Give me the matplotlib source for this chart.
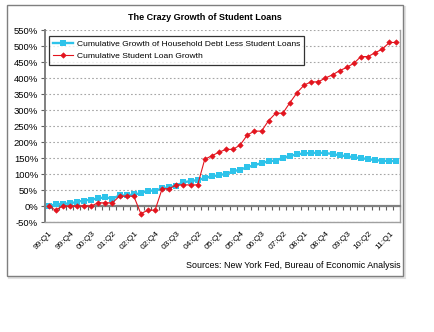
import matplotlib
matplotlib.use("Agg")
import matplotlib.pyplot as plt
from matplotlib.patches import Rectangle
import matplotlib.transforms as mtransforms
import numpy as np

plt.rcParams['font.family'] = ['Liberation Sans', 'DejaVu Sans']

title = "The Crazy Growth of Student Loans"
source = "Sources: New York Fed, Bureau of Economic Analysis"
series_names = ["Cumulative Growth of Household Debt Less Student Loans",
                "Cumulative Student Loan Growth"]

# 50 quarters: 99:Q1 .. 11:Q2 ; labels every 3rd quarter
tick_labels = ["99:Q1", "99:Q4", "00:Q3", "01:Q2", "02:Q1", "02:Q4", "03:Q3",
               "04:Q2", "05:Q1", "05:Q4", "06:Q3", "07:Q2", "08:Q1", "08:Q4",
               "09:Q3", "10:Q2", "11:Q1"]

household = [0, 5, 7, 8, 13, 17, 20, 24, 27, 23,
             33, 33, 36, 40, 48, 48, 55, 59, 64, 74,
             78, 81, 87, 93, 96, 101, 108, 114, 121, 128,
             134, 140, 142, 150, 157, 161, 165, 165, 167, 165,
             163, 158, 156, 152, 150, 146, 144, 141, 141, 140]

student = [0, -13, 0, 0, 0, 0, 0, 10, 10, 10,
           31, 31, 31, -24, -13, -13, 54, 54, 66, 66,
           66, 66, 146, 157, 168, 177, 177, 191, 222, 234,
           234, 267, 290, 290, 323, 354, 378, 388, 388, 400,
           410, 423, 433, 446, 467, 467, 479, 490, 511, 511]

W, H = 435, 332
fig = plt.figure(figsize=(W / 100, H / 100), dpi=100)
fig.patch.set_facecolor('white')

def fr(x0, y0, x1, y1):
    return (x0 / W, 1 - y1 / H, (x1 - x0) / W, (y1 - y0) / H)

# chart area frame with light shadow
sx, sy, sw, sh = fr(9, 7, 405, 278)
fig.patches.append(Rectangle((sx, sy), sw, sh, transform=fig.transFigure,
                             facecolor='none', edgecolor='#E2E2E2', lw=1.5, zorder=-3))
cx, cy, cw, ch = fr(7, 5, 403, 276)
fig.patches.append(Rectangle((cx, cy), cw, ch, transform=fig.transFigure,
                             facecolor='white', edgecolor='#7F7F7F', lw=1.0, zorder=-2))

ax = fig.add_axes(fr(45, 30, 400, 222))
ax.set_zorder(1)
ax.set_facecolor('white')

n = len(student)
x = np.arange(n)
blue = '#2EC3EA'
red = '#E3141E'

ax.plot(x, household, color=blue, lw=1.7, marker='s', markersize=3.7,
        markeredgewidth=0, label=series_names[0], zorder=3)
ax.plot(x, student, color=red, lw=0.8, marker='D', markersize=2.8,
        markeredgewidth=0.4, markeredgecolor=red, label=series_names[1], zorder=4)

ax.set_xlim(-0.32, n - 1 + 0.38)
ax.set_ylim(-50, 550)
yt = np.arange(-50, 551, 50)
ax.set_yticks(yt)
ax.set_yticklabels([f"{v}%" for v in yt], fontsize=6.8, color='black')
ax.yaxis.grid(True, color='#A6A6A6', linestyle=(0, (1.5, 2)), lw=0.8)
ax.set_axisbelow(True)

# category axis crossing at 0
ax.spines['bottom'].set_position(('data', 0))
ax.spines['bottom'].set_color('#808080')
ax.spines['bottom'].set_linewidth(1.6)
ax.spines['left'].set_color('#808080')
ax.spines['left'].set_linewidth(1.4)
ax.spines['right'].set_color('#A0A0A0')
ax.spines['right'].set_linewidth(1.0)
ax.spines['top'].set_position(('axes', 0))
ax.spines['top'].set_color('#A0A0A0')
ax.spines['top'].set_linewidth(1.0)
ax.tick_params(axis='x', which='both', top=False, bottom=True, direction='out',
               length=3, width=0.8, color='#606060', labelbottom=False)
ax.tick_params(axis='y', direction='out', length=3, width=0.8, color='#606060', pad=2)
ax.set_xticks(np.arange(-0.5, n, 1))

trans = mtransforms.blended_transform_factory(ax.transData, ax.transAxes)
for i, lab in enumerate(tick_labels):
    ax.text(i * 3 + 0.1, -0.04, lab, transform=trans, rotation=45, ha='right', va='top',
            rotation_mode='anchor', fontsize=6.0)

leg = ax.legend(loc='upper left', bbox_to_anchor=(0.011, 0.969), borderaxespad=0,
                fontsize=6.1, frameon=True, fancybox=False, handlelength=2.4,
                handletextpad=0.4, borderpad=0.5, labelspacing=0.5)
leg.get_frame().set_edgecolor('black')
leg.get_frame().set_linewidth(0.9)

fig.text(205 / W, 1 - 18 / H, title, ha='center', va='center', fontsize=6.5,
         fontweight='bold')
fig.text(401 / W, 1 - 266 / H, source, ha='right', va='center', fontsize=6.4)

fig.savefig('out.png', dpi=100, facecolor='white')
